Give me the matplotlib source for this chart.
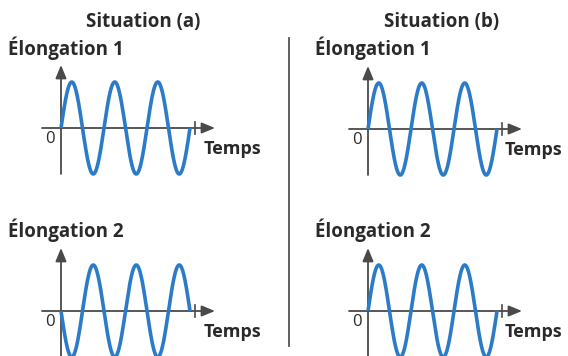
import numpy as np
import matplotlib
matplotlib.use("Agg")
import matplotlib.pyplot as plt

# ---- data ----
situations = ["Situation (a)", "Situation (b)"]
signals = ["Élongation 1", "Élongation 2"]
n_periods = [3, 3, 3, 3]            # (a)1, (a)2, (b)1, (b)2
amplitude = [1.0, 1.0, 1.0, 1.0]
phase_deg = [0, 180, 0, 0]          # (a)2 is in opposition of phase
x_label = "Temps"
origin_label = "0"

BLUE = "#2b7bc8"
AXC = "#4a4a4a"
TXT = "#2a2a2a"
FONT = ["Open Sans", "DejaVu Sans"]

W, H = 568, 356
fig = plt.figure(figsize=(W / 100, H / 100), dpi=100)

# pixel origin of each panel (x, y from top)
origins = [(61, 128), (61, 311), (368, 129), (368, 311)]
label_dx = [143, 143, 137, 137]
sx, sy = 43.0, 46.0  # pixels per period / per amplitude unit
xlim = (-0.6, 3.9)
ylim = (-1.15, 1.5)

def add_panel(k):
    ox, oy = origins[k]
    left = ox + xlim[0] * sx
    right = ox + xlim[1] * sx
    top = oy - ylim[1] * sy
    bottom = oy - ylim[0] * sy
    ax = fig.add_axes([left / W, 1 - bottom / H, (right - left) / W, (bottom - top) / H])
    ax.set_xlim(*xlim)
    ax.set_ylim(*ylim)
    ax.axis("off")
    t = np.linspace(0, n_periods[k], 600)
    y = amplitude[k] * np.sin(2 * np.pi * t + np.deg2rad(phase_deg[k]))
    ax.plot(t, y, color=BLUE, lw=2.6, clip_on=False, solid_capstyle="butt", zorder=3)
    # x axis
    x0, x1 = -19 / sx, 154 / sx
    ax.annotate("", xy=(x1, 0), xytext=(x0, 0),
                arrowprops=dict(arrowstyle="-|>,head_length=0.8,head_width=0.33",
                                color=AXC, lw=1.3, shrinkA=0, shrinkB=0), zorder=2)
    # y axis
    y_top = 63 / sy
    y_bot = -1.0 if k % 2 == 0 else -1.2
    ax.annotate("", xy=(0, y_top), xytext=(0, y_bot),
                arrowprops=dict(arrowstyle="-|>,head_length=0.8,head_width=0.33",
                                color=AXC, lw=1.3, shrinkA=0, shrinkB=0),
                annotation_clip=False, zorder=2)
    # tick at end of time axis
    xt = n_periods[k] + 5 / sx
    ax.plot([xt, xt], [-6 / sy, 6 / sy], color=AXC, lw=1.2, zorder=2, clip_on=False)
    ax.text(-6 / sx, -11 / sy, origin_label, ha="right", va="center",
            fontsize=12, color=TXT, family=FONT)
    ax.text(label_dx[k] / sx, -21 / sy, x_label, ha="left", va="center",
            fontsize=13, fontweight="bold", color=TXT, family=FONT)
    return ax

for k in range(4):
    add_panel(k)

# titles
for i, s in enumerate(situations):
    cx = 143 if i == 0 else 442
    fig.text(cx / W, 1 - 22 / H, s, ha="center", va="center",
             fontsize=13.5, fontweight="bold", color=TXT, family=FONT)
    lx = 8 if i == 0 else 315
    for j, lab in enumerate(signals):
        ly = 48 if j == 0 else 230
        fig.text(lx / W, 1 - ly / H, lab, ha="left", va="center",
                 fontsize=13.5, fontweight="bold", color=TXT, family=FONT)

# divider
fig.add_artist(plt.Line2D([289 / W, 289 / W], [1 - 38 / H, 1 - 346 / H],
                          color="#444444", lw=1.2))

fig.savefig("out.png", dpi=100, facecolor="white")
